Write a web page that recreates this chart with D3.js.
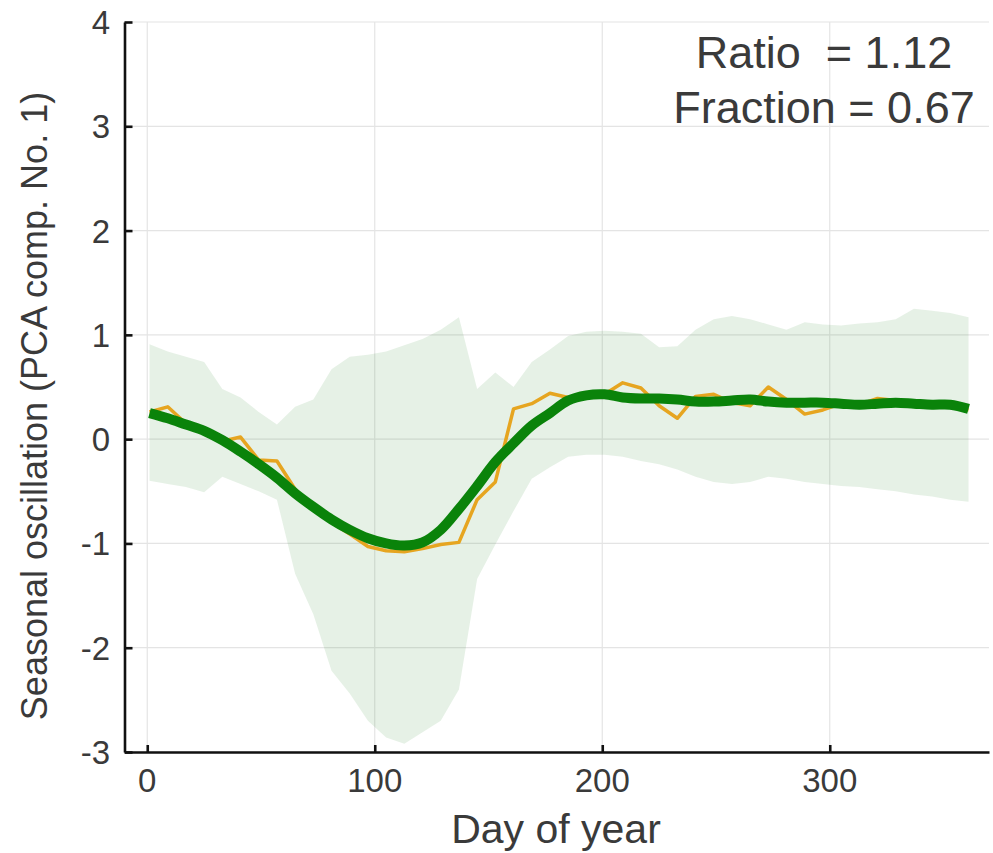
<!DOCTYPE html>
<html>
<head>
<meta charset="utf-8">
<script src="https://cdn.jsdelivr.net/npm/d3@7"></script>
<style>
  body { margin: 0; background: #fff; }
  text { font-family: "Liberation Sans", Arial, Helvetica, sans-serif; }
</style>
</head>
<body>
<svg width="993" height="853"></svg>
<script>
// 8-day composites, day of year
var days = [1, 9, 17, 25, 33, 41, 49, 57, 65, 73, 81, 89, 97, 105, 113, 121,
    129, 137, 145, 153, 161, 169, 177, 185, 193, 201, 209, 217, 225, 233, 241,
    249, 257, 265, 273, 281, 289, 297, 305, 313, 321, 329, 337, 345, 353, 361];

var rawValues = [0.26, 0.31, 0.15, 0.07, -0.02, 0.02, -0.20, -0.21, -0.48, -0.66,
    -0.80, -0.91, -1.03, -1.07, -1.08, -1.05, -1.01, -0.99, -0.58, -0.41, 0.29,
    0.34, 0.44, 0.40, 0.42, 0.43, 0.54, 0.49, 0.32, 0.20, 0.41, 0.43, 0.35, 0.32,
    0.50, 0.38, 0.24, 0.28, 0.34, 0.33, 0.39, 0.37, 0.35, 0.33, 0.32, 0.28];

var smoothValues = [0.25, 0.20, 0.14, 0.08, -0.01, -0.12, -0.24, -0.37, -0.52,
    -0.65, -0.77, -0.87, -0.95, -1.00, -1.02, -0.99, -0.87, -0.67, -0.45, -0.22,
    -0.04, 0.13, 0.25, 0.37, 0.42, 0.43, 0.40, 0.39, 0.39, 0.38, 0.36, 0.36, 0.37,
    0.38, 0.36, 0.35, 0.35, 0.35, 0.34, 0.33, 0.34, 0.35, 0.34, 0.33, 0.33, 0.29];

var bandUpper = [0.91, 0.84, 0.79, 0.74, 0.48, 0.40, 0.26, 0.14, 0.31, 0.38, 0.67,
    0.79, 0.81, 0.84, 0.90, 0.96, 1.05, 1.17, 0.48, 0.64, 0.50, 0.74, 0.86, 0.99,
    1.03, 1.04, 1.03, 1.01, 0.88, 0.89, 1.05, 1.15, 1.18, 1.15, 1.10, 1.05, 1.12,
    1.10, 1.09, 1.11, 1.12, 1.15, 1.25, 1.23, 1.21, 1.17];

var bandLower = [-0.40, -0.43, -0.46, -0.51, -0.36, -0.43, -0.50, -0.58, -1.29,
    -1.68, -2.22, -2.44, -2.70, -2.86, -2.92, -2.81, -2.70, -2.40, -1.34, -1.01,
    -0.69, -0.38, -0.27, -0.17, -0.15, -0.15, -0.17, -0.21, -0.24, -0.29, -0.36,
    -0.41, -0.43, -0.41, -0.36, -0.38, -0.41, -0.43, -0.45, -0.46, -0.48, -0.50,
    -0.53, -0.55, -0.58, -0.60];

var xTicks = [0, 100, 200, 300];
var yTicks = [-3, -2, -1, 0, 1, 2, 3, 4];
var annotation = ["Ratio  = 1.12", "Fraction = 0.67"];

(function(d3) {
    "use strict";

var svg = d3.select("svg"),
    x0 = 124.5, x1 = 989, y0 = 752, y1 = 22;

var x = d3.scaleLinear().domain([-10, 370]).range([x0, x1]),
    y = d3.scaleLinear().domain([-3, 4]).range([y0, y1]);

var rows = days.map(function(d, i) {
    return {day: d, raw: rawValues[i], smooth: smoothValues[i], lo: bandLower[i], hi: bandUpper[i]};
});

// grid
var grid = svg.append("g").attr("stroke", "#e4e4e4").attr("stroke-width", 1.2);
grid.selectAll(".gx").data(xTicks).enter().append("line")
    .attr("x1", function(d) { return x(d); }).attr("x2", function(d) { return x(d); })
    .attr("y1", y1).attr("y2", y0);
grid.selectAll(".gy").data(yTicks).enter().append("line")
    .attr("x1", x0).attr("x2", x1)
    .attr("y1", function(d) { return y(d); }).attr("y2", function(d) { return y(d); });

// spread band
svg.append("path")
    .datum(rows)
    .attr("fill", "#2e8b2e")
    .attr("fill-opacity", 0.12)
    .attr("d", d3.area()
        .x(function(d) { return x(d.day); })
        .y0(function(d) { return y(d.lo); })
        .y1(function(d) { return y(d.hi); }));

// raw series
svg.append("path")
    .datum(rows)
    .attr("fill", "none")
    .attr("stroke", "#e6a520")
    .attr("stroke-width", 3.5)
    .attr("stroke-linejoin", "round")
    .attr("d", d3.line()
        .x(function(d) { return x(d.day); })
        .y(function(d) { return y(d.raw); }));

// smoothed series
svg.append("path")
    .datum(rows)
    .attr("fill", "none")
    .attr("stroke", "#0a830a")
    .attr("stroke-width", 10)
    .attr("stroke-linejoin", "round")
    .attr("d", d3.line()
        .curve(d3.curveCatmullRom)
        .x(function(d) { return x(d.day); })
        .y(function(d) { return y(d.smooth); }));

// axes
var xAxis = svg.append("g")
    .attr("transform", "translate(0," + y0 + ")")
    .call(d3.axisTop(x).tickValues(xTicks).tickSize(7).tickFormat("").tickSizeOuter(0));
var yAxis = svg.append("g")
    .attr("transform", "translate(" + x0 + ",0)")
    .call(d3.axisRight(y).tickValues(yTicks).tickSize(8).tickFormat("").tickSizeOuter(0));
[xAxis, yAxis].forEach(function(a) {
    a.select(".domain").attr("stroke", "#111").attr("stroke-width", 2.6);
    a.selectAll(".tick line").attr("stroke", "#111").attr("stroke-width", 2.6);
});

svg.selectAll(".xlab").data(xTicks).enter().append("text")
    .attr("x", function(d) { return x(d); })
    .attr("y", 792)
    .attr("text-anchor", "middle")
    .attr("font-size", 33)
    .attr("fill", "#3a3a3a")
    .text(function(d) { return d; });

svg.selectAll(".ylab").data(yTicks).enter().append("text")
    .attr("x", 110)
    .attr("y", function(d) { return y(d) + 12; })
    .attr("text-anchor", "end")
    .attr("font-size", 33)
    .attr("fill", "#3a3a3a")
    .text(function(d) { return d; });

svg.append("text")
    .attr("x", 556).attr("y", 843)
    .attr("text-anchor", "middle")
    .attr("font-size", 41)
    .attr("fill", "#3a3a3a")
    .text("Day of year");

svg.append("text")
    .attr("transform", "translate(47,406) rotate(-90)")
    .attr("text-anchor", "middle")
    .attr("font-size", 36)
    .attr("fill", "#3a3a3a")
    .text("Seasonal oscillation (PCA comp. No. 1)");

svg.selectAll(".note").data(annotation).enter().append("text")
    .attr("x", 824)
    .attr("y", function(d, i) { return 68 + i * 55; })
    .attr("text-anchor", "middle")
    .attr("font-size", 45)
    .attr("fill", "#3a3a3a")
    .style("white-space", "pre")
    .text(function(d) { return d; });

}(d3));
</script>
</body>
</html>
